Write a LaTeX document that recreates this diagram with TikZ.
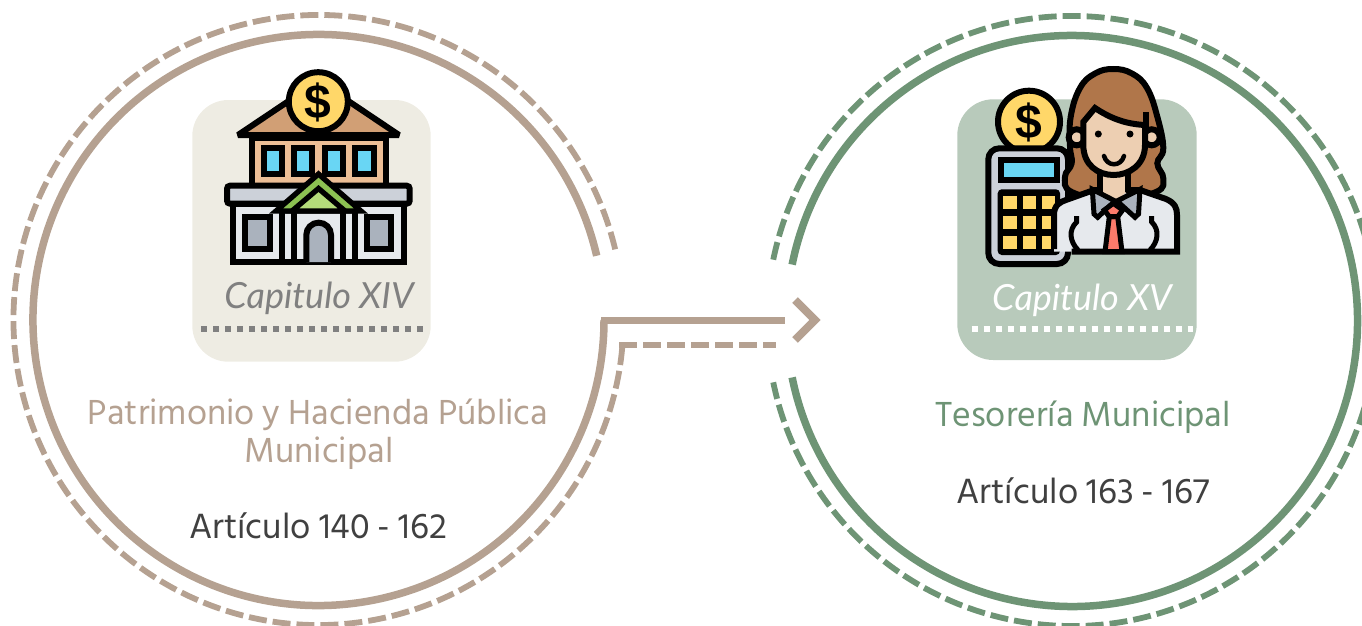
\documentclass[tikz,border=0pt]{standalone}
\usepackage{fontspec}
\setmainfont{Hind Siliguri}
\newfontfamily\capfont{Lato}
\newfontfamily\coinfont{Liberation Sans}
\definecolor{tanline}{HTML}{B5A191}
\definecolor{sageline}{HTML}{6E9475}
\definecolor{tanbox}{HTML}{EEECE3}
\definecolor{sagebox}{HTML}{B8CABB}
\definecolor{coinyel}{HTML}{FFD769}
\definecolor{roofbrown}{HTML}{D19F75}
\definecolor{wallpeach}{HTML}{ECBE96}
\definecolor{glassblue}{HTML}{69D6F4}
\definecolor{bandgrey}{HTML}{CCD1D9}
\definecolor{wallgrey}{HTML}{E6E9ED}
\definecolor{darkgrey}{HTML}{AAB2BD}
\definecolor{leafgreen}{HTML}{8CC152}
\definecolor{lightleaf}{HTML}{B4DC7A}
\definecolor{hairbrown}{HTML}{B0764A}
\definecolor{skintone}{HTML}{EDCFB2}
\definecolor{tiered}{HTML}{FB7B6B}
\tikzset{
  ringsolid/.style={line width=7.5pt},
  ringdash/.style={line width=5.8pt,dash pattern=on 18pt off 6pt},
  panel/.style={rounded corners=36pt},
  dotline/.style={line width=6pt,dash pattern=on 6pt off 6pt},
  ink/.style={draw=black,line width=6pt},
  capitulo/.style={font=\capfont\itshape\fontsize{36}{36}\selectfont,anchor=base},
  heading/.style={font=\fontsize{35.7}{36}\selectfont,anchor=base},
  article/.style={font=\fontsize{36}{36}\selectfont,text=black!75,anchor=base},
  coinmark/.style={font=\coinfont\bfseries\fontsize{48}{48}\selectfont,text=black}
}
\begin{document}
\begin{tikzpicture}[x=1pt,y=-1pt]
  \useasboundingbox (0,0) rectangle (1362,626);
  \coordinate (leftc) at (318.5,320);
  \coordinate (rightc) at (1072,321);

  % Ringen
  \draw[tanline,ringsolid] (leftc) ++(-13:285.5) arc (-13:-360:285.5);
  \draw[tanline,ringdash] (leftc) ++(-13.4:305) arc (-13.4:-355.3:305);
  \draw[sageline,ringsolid] (rightc) ++(-168.6:285.5) arc (-168.6:168.6:285.5);
  \draw[sageline,ringdash] (rightc) ++(-168.4:305) arc (-168.4:168.4:305);

  % Pijl
  \coordinate (bendsolid) at (601,320);
  \coordinate (tipsolid) at (785,320);
  \coordinate (benddash) at (619,345);
  \coordinate (tipdash) at (776,345);
  \coordinate (chevtop) at (795,300);
  \coordinate (chevtip) at (815,320);
  \coordinate (chevbot) at (795,340);
  \draw[tanline,line width=7pt] (bendsolid) -- (tipsolid);
  \draw[tanline,ringdash] (benddash) -- (tipdash);
  \draw[tanline,line width=8pt] (chevtop) -- (chevtip) -- (chevbot);

  % Vlakken
  \fill[tanbox,panel] (192.3,100) rectangle (430.7,361.7);
  \fill[sagebox,panel] (957.3,99.3) rectangle (1196.7,360);

  % Gebouw: bovenbouw
  \draw[ink,fill=roofbrown,line join=bevel] (238,135) -- (318.5,81) -- (399,135) -- cycle;
  \draw[ink,fill=wallpeach] (251.5,138) rectangle (385.8,186);
  \foreach \wx in {263.7,294,324.7,355.3} {
    \draw[ink,fill=glassblue] (\wx,148) rectangle ++(18.3,25.7);
  }
  \draw[ink,fill=coinyel] (318.3,101.7) circle (29.5);
  \node[coinmark] (coinbank) at (318.3,102) {\$};

  % Gebouw: onderbouw
  \draw[ink,fill=wallgrey] (233,203.7) rectangle (403.7,262);
  \draw[ink,fill=bandgrey,rounded corners=3pt] (227,185.7) rectangle (409.7,203.7);
  \draw[ink,fill=darkgrey] (245.3,217) rectangle (270.3,249.3);
  \draw[ink,fill=darkgrey] (367,217) rectangle (391.3,249.3);
  \foreach \cx in {281.7,294,342.7,355.3} {
    \draw[ink] (\cx,205) -- (\cx,262);
  }
  \draw[ink,fill=darkgrey] (306.3,262) -- (306.3,235) arc (180:360:12.35) -- (331,262);
  \draw[ink,line width=5.3pt,fill=leafgreen] (276,211) -- (318.5,174) -- (361,211) -- cycle;
  \draw[ink,line width=5.3pt,fill=lightleaf] (292,211) -- (318.5,188.5) -- (345,211) -- cycle;

  % Munt en rekenmachine
  \draw[ink,fill=coinyel] (1029,121.7) circle (31);
  \node[coinmark] (coincalc) at (1029,122) {\$};
  \draw[ink,fill=bandgrey,rounded corners=11pt] (988.3,148.3) rectangle (1068,264);
  \draw[ink,fill=glassblue] (1000.7,160) rectangle (1057.3,180);
  \fill[black,rounded corners=4pt] (997.7,189.3) rectangle (1060,255);
  \foreach \kx in {1003.3,1022.5,1041.7} {
    \foreach \ky in {196,215.7,235.7} {
      \fill[coinyel] (\kx,\ky) rectangle ++(13.3,13.3);
    }
  }

  % Haar achter
  \draw[ink,fill=hairbrown] plot[smooth cycle,tension=0.7] coordinates {
    (1113.3,69) (1095,73.5) (1080,88) (1070.7,116.7) (1070,146.7) (1071.7,163.3) (1065,176.7)
    (1071.7,192) (1113,200) (1156,192) (1163.3,178.3) (1157.3,163.3) (1163.3,148.3)
    (1157.3,116.7) (1147,88) (1132,73.5)};

  % Hemd
  \fill[wallgrey] (1054,251.7) -- (1054,215) .. controls (1054,205) and (1060,202) .. (1066,200)
    -- (1094,190) -- (1140,190) -- (1166,199) .. controls (1175,203) and (1177,208) .. (1177,215)
    -- (1177,251.7) -- cycle;
  \draw[ink] (1054,249) -- (1054,215) .. controls (1054,205) and (1060,202) .. (1066,200)
    -- (1094,190) -- (1140,190) -- (1166,199) .. controls (1175,203) and (1177,208) .. (1177,215)
    -- (1177,251.7) -- (1071.7,251.7);
  \draw[ink,line width=5pt] (1076.7,216) -- (1076.7,222) .. controls (1068,230) and (1070,242) .. (1078,250);
  \draw[ink,line width=5pt] (1151.7,216) -- (1151.7,222) .. controls (1160,230) and (1158,242) .. (1150,250);

  % Hals en hoofd
  \fill[skintone] (1100,172) -- (1100,190) -- (1116,202) -- (1128,190) -- (1128,172) -- cycle;
  \draw[ink] (1100,172) -- (1100,192);
  \draw[ink] (1128,172) -- (1128,192);
  \draw[ink,fill=skintone] (1076.7,137.3) circle (8);
  \draw[ink,fill=skintone] (1151.7,137.3) circle (8);
  \draw[ink,fill=skintone] (1083.3,122) -- (1083.3,145) .. controls (1083.3,165) and (1098,175) .. (1113.5,175)
    .. controls (1129,175) and (1145,165) .. (1145,145) -- (1145,125)
    .. controls (1125,124) and (1110,118) .. (1095,108) -- cycle;
  \draw[ink] (1145.7,112) -- (1145.7,128);
  \fill[black] (1098.3,134) circle (3.5);
  \fill[black] (1130,134) circle (3.5);
  \draw[ink,line width=4.5pt,line cap=round] (1104,156) .. controls (1107,167) and (1121,167) .. (1124,156);

  % Kraag en das
  \draw[ink,line width=5pt,fill=darkgrey] (1092.3,189.3) -- (1115,201) -- (1097.7,217.3) -- (1094,214) -- cycle;
  \draw[ink,line width=5pt,fill=darkgrey] (1140,189.3) -- (1117,201) -- (1135,217.3) -- (1138.5,214) -- cycle;
  \draw[ink,line width=5pt,fill=tiered] (1109.3,216.7) -- (1105,251.7) -- (1122,251.7) -- (1117.7,216.7) -- cycle;
  \draw[ink,line width=5pt,fill=tiered] (1113.3,203.3) -- (1122.7,210) -- (1117.7,216.7) -- (1109.3,216.7) -- (1104.3,210) -- cycle;

  % Teksten
  \node[capitulo,text=black!50] (capleft) at (319,308) {Capitulo XIV};
  \draw[dotline,black!50] (201,329) -- (423,329);
  \node[capitulo,text=white] (capright) at (1082,310) {Capitulo XV};
  \draw[dotline,white] (971.7,329) -- (1193,329);
  \node[heading,text=tanline] (titleleftone) at (318,424) {Patrimonio y Hacienda Pública};
  \node[heading,text=tanline] (titlelefttwo) at (319,462) {Municipal};
  \node[article] (artleft) at (318,538) {Artículo 140 - 162};
  \node[heading,text=sageline] (titleright) at (1083,426) {Tesorería Municipal};
  \node[article] (artright) at (1083,503) {Artículo 163 - 167};
\end{tikzpicture}
\end{document}
